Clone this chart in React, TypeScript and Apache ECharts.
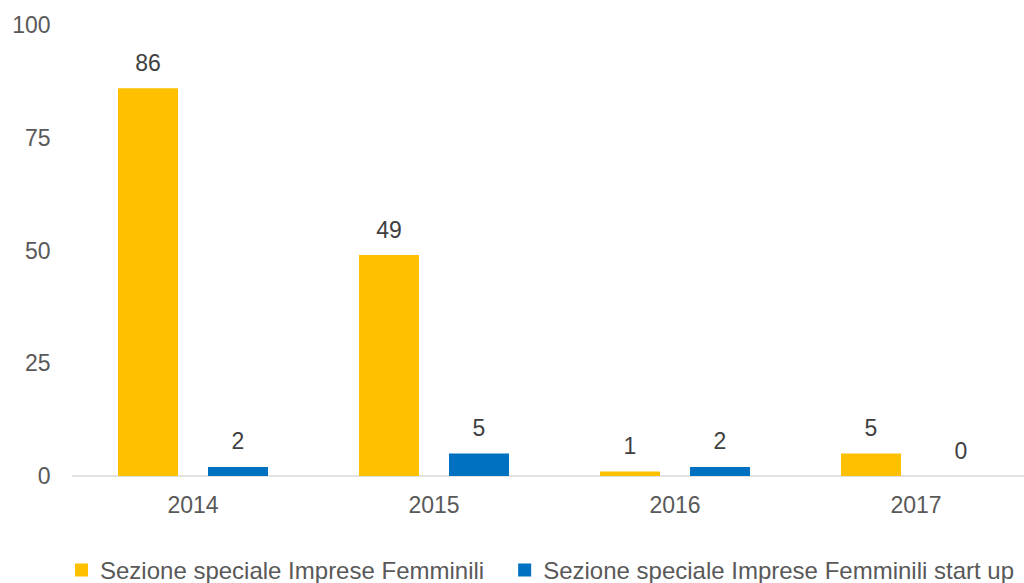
import React, { useEffect, useRef } from "react";
import * as echarts from "echarts";

const categories = ["2014", "2015", "2016", "2017"];
const seriesNames = ["Sezione speciale Imprese Femminili", "Sezione speciale Imprese Femminili start up"];
const femminili = [86, 49, 1, 5];
const startUp = [2, 5, 2, 0];
const yTicks = [0, 25, 50, 75, 100];

const FONT = "'Liberation Sans', Arial, sans-serif";
const FS = 23;

export default function App() {
  const ref = useRef<HTMLDivElement>(null);
  useEffect(() => {
    if (!ref.current) return;
    const chart = echarts.init(ref.current, null, { renderer: "svg" });
    const label = {
      show: true,
      position: "top" as const,
      distance: 14,
      color: "#404040",
      fontSize: FS,
      fontFamily: FONT,
    };
    chart.setOption({
      animation: false,
      textStyle: { fontFamily: FONT },
      grid: { left: 72.5, right: 3.5, top: 25, bottom: 107, containLabel: false },
      legend: {
        left: 75,
        top: 557,
        icon: "rect",
        itemWidth: 13,
        itemHeight: 13,
        itemGap: 34,
        padding: 0,
        textStyle: {
          color: "#595959",
          fontSize: 24,
          fontFamily: FONT,
          lineHeight: 26,
          padding: [0, 0, 0, 7],
        },
        data: seriesNames,
      },
      xAxis: {
        type: "category",
        data: categories,
        axisLine: { lineStyle: { color: "#d9d9d9", width: 1.5 } },
        axisTick: { show: false },
        axisLabel: { color: "#595959", fontSize: FS, fontFamily: FONT, margin: 17 },
      },
      yAxis: {
        type: "value",
        min: yTicks[0],
        max: yTicks[yTicks.length - 1],
        interval: 25,
        splitLine: { show: false },
        axisLine: { show: false },
        axisTick: { show: false },
        axisLabel: { color: "#595959", fontSize: FS, fontFamily: FONT, margin: 22 },
      },
      series: [
        {
          name: seriesNames[0],
          type: "bar",
          data: femminili,
          barWidth: 60,
          barGap: "50%",
          itemStyle: { color: "#FFC000" },
          label,
        },
        {
          name: seriesNames[1],
          type: "bar",
          data: startUp,
          barWidth: 60,
          barGap: "50%",
          itemStyle: { color: "#0070C0" },
          label,
        },
      ],
    });
    return () => chart.dispose();
  }, []);
  return (
    <div
      style={{
        position: "absolute",
        left: 0,
        top: 0,
        width: 1024,
        height: 583,
        overflow: "hidden",
        background: "#fff",
      }}
    >
      <div ref={ref} style={{ width: 1040, height: 583 }} />
    </div>
  );
}
